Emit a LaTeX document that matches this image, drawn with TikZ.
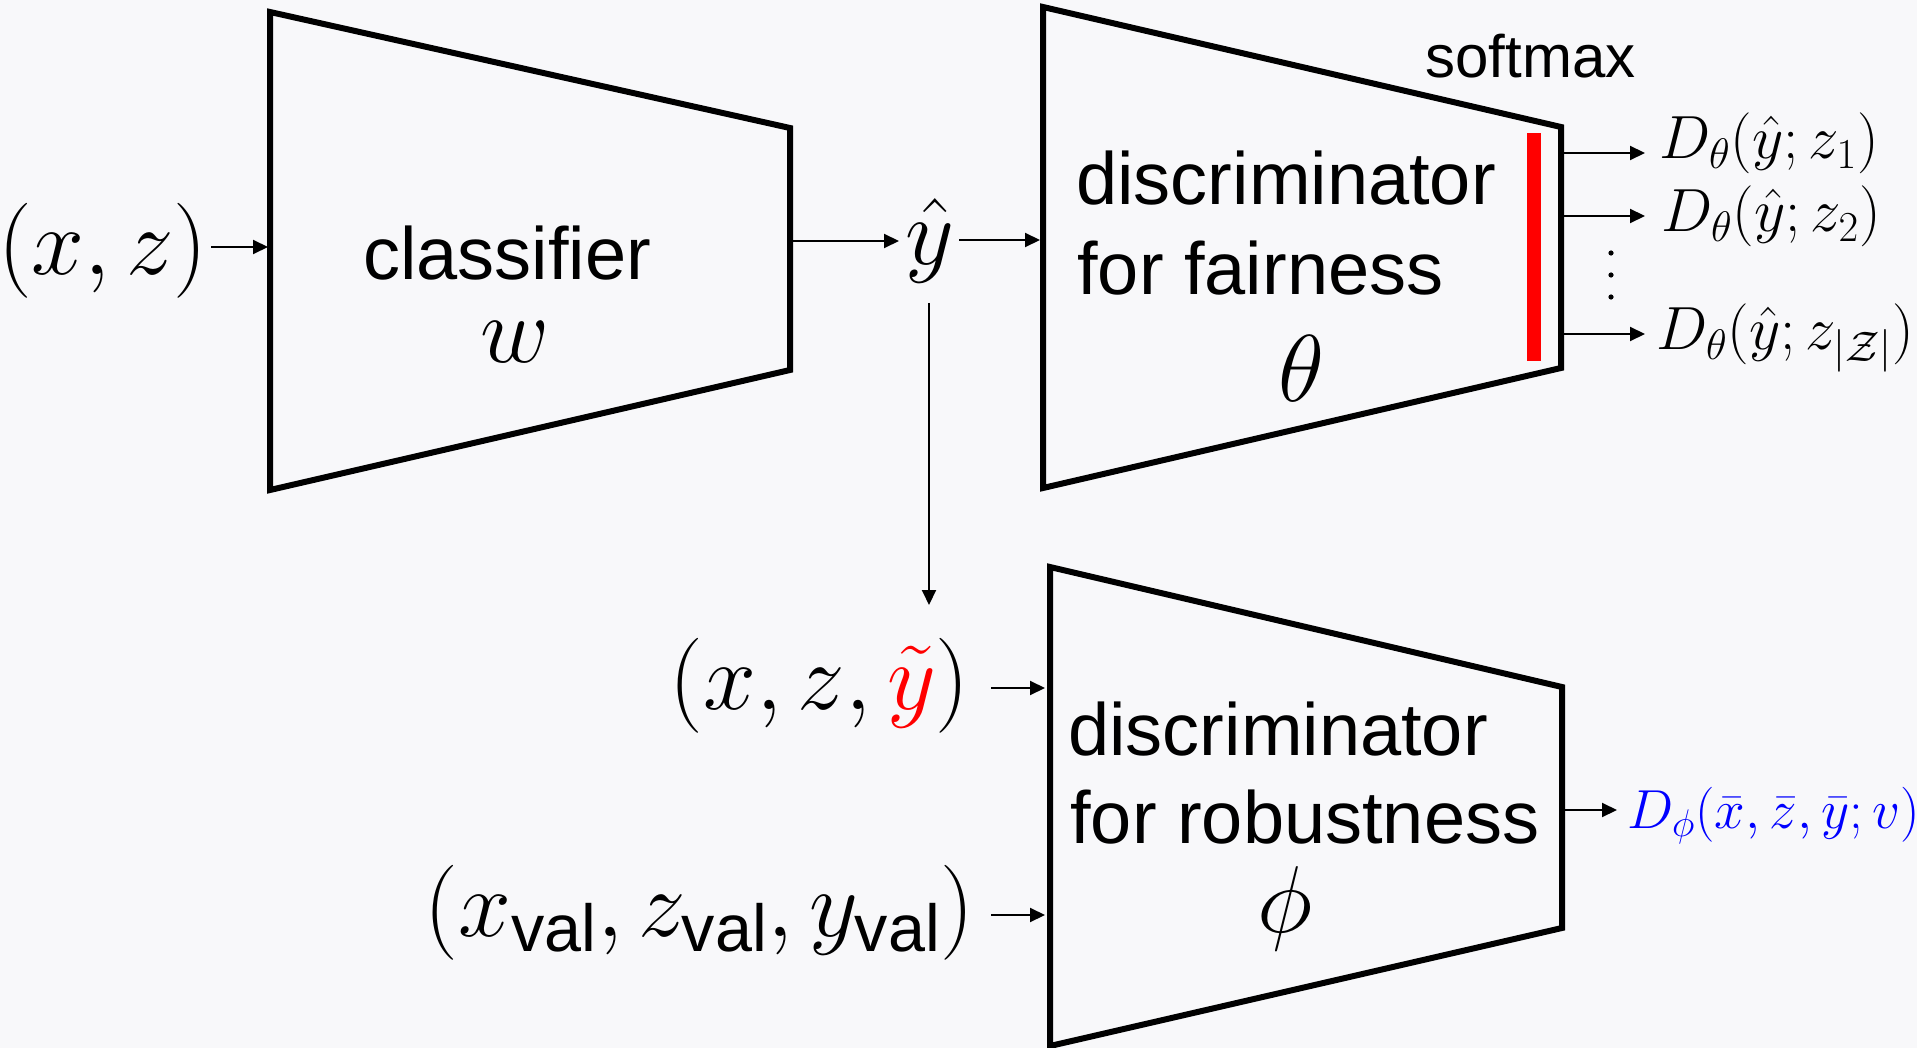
\RequirePackage{fix-cm}
\documentclass[tikz,border=0pt]{standalone}
\usepackage{amsmath}
\usepackage{fontspec}
\setsansfont{Liberation Sans}
\usetikzlibrary{arrows.meta}
\definecolor{bg}{RGB}{248,248,250}
\begin{document}
\begin{tikzpicture}[x=0.5pt,y=-0.5pt,
  trap/.style={line width=3pt, line join=miter},
  arr/.style={line width=1pt, -{Triangle[length=7.5pt,width=7pt]}},
  lbl/.style={font=\sffamily\fontsize{37}{44}\selectfont, inner sep=0pt, anchor=base west},
  bigmath/.style={font=\fontsize{47.5}{57}\selectfont, inner sep=0pt},
  outmath/.style={font=\fontsize{30.5}{36}\selectfont, inner sep=0pt, anchor=base west}]
\fill[bg] (0,0) rectangle (1917,1048);
\useasboundingbox (0,0) rectangle (1917,1048);

% trapezoids
\coordinate (c1) at (270,12);  \coordinate (c2) at (790,128);
\coordinate (c3) at (790,370); \coordinate (c4) at (270,490);
\coordinate (f1) at (1043,7);  \coordinate (f2) at (1561,127);
\coordinate (f3) at (1561,368); \coordinate (f4) at (1043,488);
\coordinate (r1) at (1050,567); \coordinate (r2) at (1562,687);
\coordinate (r3) at (1562,928); \coordinate (r4) at (1050,1046);
\draw[trap] (c1) -- (c2) -- (c3) -- (c4) -- cycle;
\draw[trap] (f1) -- (f2) -- (f3) -- (f4) -- cycle;
\draw[trap] (r1) -- (r2) -- (r3) -- (r4) -- cycle;

% softmax bar
\fill[red] (1527,133) rectangle (1541,361);
\node[lbl, font=\sffamily\fontsize{30}{36}\selectfont] (sm) at (1425,78) {softmax};

% box texts
\node[lbl] (clsT) at (363,280) {classifier};
\node[bigmath, anchor=base] (clsW) at (515,362) {$w$};
\node[lbl] (fT1) at (1076,205) {discriminator};
\node[lbl] (fT2) at (1077,295) {for fairness};
\node[bigmath, anchor=base] (fTh) at (1301,401) {$\theta$};
\node[lbl] (rT1) at (1068,755) {discriminator};
\node[lbl] (rT2) at (1070,843) {for robustness};
\node[bigmath, anchor=base] (rPhi) at (1285,932) {$\phi$};

% inputs / intermediate
\node[bigmath, anchor=base east] (xz) at (208,275) {$(x,z)$};
\node[bigmath, anchor=base] (yhat) at (930,265) {$\hat{y}$};
\node[bigmath, anchor=base east] (xzy) at (970,709) {$(x,z,{\color{red}\tilde{y}})$};
\node[bigmath, anchor=base east] (val) at (975,936) {$(x_{\textsf{val}},z_{\textsf{val}},y_{\textsf{val}})$};

% outputs
\node[outmath] (o1) at (1659,159) {$D_\theta(\hat{y};z_1)$};
\node[outmath] (o2) at (1661,232) {$D_\theta(\hat{y};z_2)$};
\node[outmath] (o3) at (1656,350) {$D_\theta(\hat{y};z_{|\mathcal{Z}|})$};
\node[outmath, font=\fontsize{27.5}{33}\selectfont, text=blue] (oR) at (1627,828) {$D_\phi(\bar{x},\bar{z},\bar{y};v)$};
\fill (1611,253) circle (2.6) (1611,275) circle (2.6) (1611,297) circle (2.6);

% connectors
\coordinate (a0) at (211,247); \coordinate (a0e) at (268,247);
\coordinate (a1) at (790,241); \coordinate (a1e) at (899,241);
\coordinate (a2) at (959,240); \coordinate (a2e) at (1040,240);
\coordinate (v0) at (929,303); \coordinate (v0e) at (929,605);
\coordinate (b1) at (991,688); \coordinate (b1e) at (1045,688);
\coordinate (b2) at (991,915); \coordinate (b2e) at (1045,915);
\coordinate (o1s) at (1561,153); \coordinate (o1e) at (1645,153);
\coordinate (o2s) at (1561,216); \coordinate (o2e) at (1645,216);
\coordinate (o3s) at (1561,334); \coordinate (o3e) at (1645,334);
\coordinate (oRs) at (1562,810); \coordinate (oRe) at (1617,810);
\draw[arr] (a0) -- (a0e);
\draw[arr] (a1) -- (a1e);
\draw[arr] (a2) -- (a2e);
\draw[arr] (v0) -- (v0e);
\draw[arr] (b1) -- (b1e);
\draw[arr] (b2) -- (b2e);
\draw[arr] (o1s) -- (o1e);
\draw[arr] (o2s) -- (o2e);
\draw[arr] (o3s) -- (o3e);
\draw[arr] (oRs) -- (oRe);
\end{tikzpicture}
\end{document}
